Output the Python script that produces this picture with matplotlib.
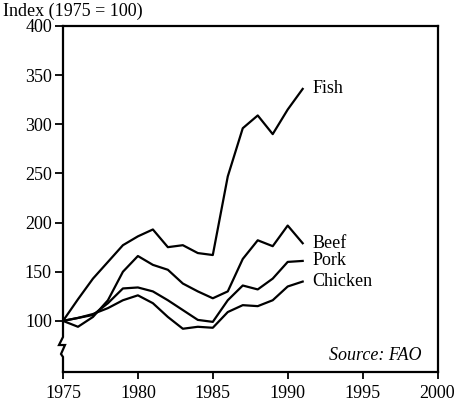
import matplotlib
matplotlib.use("Agg")
import matplotlib.pyplot as plt

plt.rcParams['font.family'] = ['Liberation Serif', 'DejaVu Serif']

years = list(range(1975, 1992))
fish = [100, 122, 143, 160, 177, 186, 193, 175, 177, 169, 167, 247, 296, 309, 290, 315, 336]
beef = [100, 94, 104, 121, 150, 166, 157, 152, 138, 130, 123, 130, 163, 182, 176, 197, 179]
pork = [100, 103, 106, 118, 133, 134, 130, 121, 111, 101, 99, 121, 136, 132, 143, 160, 161]
chicken = [100, 103, 107, 113, 121, 126, 118, 104, 92, 94, 93, 109, 116, 115, 121, 135, 140]
series = [("Fish", fish), ("Beef", beef), ("Pork", pork), ("Chicken", chicken)]

xticks = [1975, 1980, 1985, 1990, 1995, 2000]
yticks = [100, 150, 200, 250, 300, 350, 400]

fig = plt.figure(figsize=(4.57, 4.03), dpi=100)
ax = fig.add_axes([63 / 457, 1 - 372 / 403, 374.5 / 457, 346 / 403])

for name, vals in series:
    ax.plot(years, vals, color='black', lw=1.6)
    ax.annotate(name, (years[-1], vals[-1]), xytext=(7, 0), textcoords='offset points',
                va='center', ha='left', fontsize=13)

ax.set_xlim(1975, 2000)
ax.set_ylim(48, 400)
ax.set_xticks(xticks)
ax.set_yticks(yticks)
ax.tick_params(axis='both', direction='out', labelsize=13, width=1.3)
ax.tick_params(axis='y', length=6, pad=2)
ax.tick_params(axis='x', length=5, pad=4)

for s in ['top', 'right', 'bottom']:
    ax.spines[s].set_linewidth(1.6)
ax.spines['left'].set_visible(False)

# left spine with a broken-axis zigzag near the bottom
bx = [0, 0, -0.0107, 0.0053, -0.0053, 0, 0]
by = [1, 0.1012, 0.078, 0.078, 0.052, 0.0434, 0]
ax.plot(bx, by, color='black', lw=1.6, transform=ax.transAxes, clip_on=False,
        solid_joinstyle='miter')

ax.text(0.9586, 0.049, "Source: FAO", transform=ax.transAxes, ha='right', va='center',
        fontsize=13, style='italic')

fig.text(3 / 457, 1 - 11 / 403, "Index (1975 = 100)", ha='left', va='center', fontsize=13)

fig.savefig("out.png", dpi=100)
